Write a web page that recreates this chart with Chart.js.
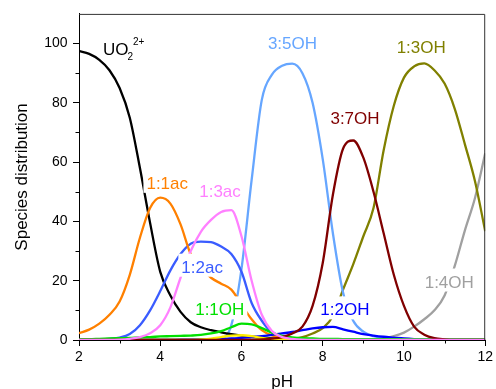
<!DOCTYPE html>
<html lang="en">
<head>
    <meta charset="UTF-8">
    <title>Species distribution vs pH</title>
    <style>
        body { margin: 0; background: #fff; }
        .chart-container { width: 496px; height: 389px; }
    </style>
</head>
<body>
    <div class="chart-container">
        <canvas id="speciesChart"></canvas>
    </div>

    <script src="https://cdn.jsdelivr.net/npm/chart.js"></script>
    <script>
        // pH grid the curves were read at
        const ph = [2, 2.25, 2.5, 2.75, 3, 3.25, 3.5, 3.75, 4, 4.25,
                    4.5, 4.75, 5, 5.25, 5.5, 5.75, 6, 6.25, 6.5, 6.75,
                    7, 7.25, 7.5, 7.75, 8, 8.25, 8.5, 8.75, 9, 9.25,
                    9.5, 9.75, 10, 10.25, 10.5, 10.75, 11, 11.25, 11.5, 11.75, 12];

        // species distribution (%)
        const uo2 = [97.5, 96.5, 94.5, 91, 85, 75, 58, 39.5, 23, 15,
                     9.5, 6, 4.3, 3.3, 2.6, 2, 1.5, 1.1, 0.8, 0.5,
                     0.3, 0.2, 0.1, 0, 0, 0, 0, 0, 0, 0,
                     0, 0, 0, 0, 0, 0, 0, 0, 0, 0, 0];
        const ac11 = [2.3, 3.5, 5.5, 8.5, 13, 22, 34.5, 44.5, 48, 46,
                      39, 29, 24.5, 21, 19, 17, 12, 7, 3.3, 1.5,
                      0.6, 0.2, 0.1, 0, 0, 0, 0, 0, 0, 0,
                      0, 0, 0, 0, 0, 0, 0, 0, 0, 0, 0];
        const ac12 = [0.1, 0.1, 0.2, 0.4, 0.8, 2, 5, 10, 16.5, 23.5,
                      29, 32.5, 33.2, 33, 31.5, 29, 23, 12.5, 6.5, 2.5,
                      0.8, 0.3, 0.1, 0, 0, 0, 0, 0, 0, 0,
                      0, 0, 0, 0, 0, 0, 0, 0, 0, 0, 0];
        const ac13 = [0, 0, 0, 0, 0.1, 0.4, 1, 2.3, 5, 11,
                      21, 30, 36.5, 40.5, 43.2, 43.8, 35, 20, 8.5, 3,
                      1, 0.4, 0.1, 0, 0, 0, 0, 0, 0, 0,
                      0, 0, 0, 0, 0, 0, 0, 0, 0, 0, 0];
        const oh11 = [0.3, 0.3, 0.4, 0.5, 0.6, 0.7, 0.9, 1, 1.2, 1.3,
                      1.4, 1.5, 1.7, 2.2, 3, 4.3, 5.5, 5.3, 4, 2.5,
                      1.4, 0.9, 0.6, 0.5, 0.4, 0.4, 0.3, 0.3, 0.3, 0.3,
                      0.3, 0.3, 0.2, 0.2, 0.2, 0.2, 0.2, 0.2, 0.2, 0.2, 0.2];
        const oh12 = [0, 0, 0, 0, 0, 0, 0, 0, 0, 0,
                      0.1, 0.1, 0.2, 0.2, 0.3, 0.5, 0.7, 1, 1.3, 1.7,
                      2.2, 2.7, 3.3, 3.9, 4.3, 4.4, 3.6, 2.8, 2, 1.5,
                      1.1, 0.8, 0.5, 0.3, 0.2, 0.1, 0.1, 0.1, 0.1, 0.1, 0.1];
        const oh13 = [0, 0, 0, 0, 0, 0, 0, 0, 0, 0,
                      0, 0, 0, 0, 0, 0, 0, 0, 0, 0,
                      0.2, 0.5, 1, 2.2, 4, 8, 17, 25.5, 35, 44.5,
                      64, 79, 88.5, 92.3, 93.3, 91, 86.5, 78, 66, 53.5, 36.7];
        const oh14 = [0, 0, 0, 0, 0, 0, 0, 0, 0, 0,
                      0, 0, 0, 0, 0, 0, 0, 0, 0, 0,
                      0, 0, 0, 0, 0, 0, 0, 0, 0.1, 0.3,
                      0.6, 1.3, 2.5, 4.5, 7, 10, 15, 25, 37, 48, 63];
        const oh35 = [0, 0, 0, 0, 0, 0, 0, 0, 0, 0,
                      0, 0, 0, 0, 0.4, 5, 24, 54, 81, 89.5,
                      92.5, 93.2, 90, 80, 61, 36, 16, 6.5, 2.8, 1.3,
                      0.7, 0.4, 0.2, 0.1, 0, 0, 0, 0, 0, 0, 0];
        const oh37 = [0, 0, 0, 0, 0, 0, 0, 0, 0, 0,
                      0, 0, 0, 0, 0, 0, 0, 0, 0.2, 0.5,
                      1, 2.2, 4.5, 11.5, 26, 49, 64.5, 67.3, 61.5, 50,
                      36, 22, 11.5, 4.5, 1.8, 0.6, 0.2, 0, 0, 0, 0];
        const minor = [0, 0, 0, 0, 0, 0, 0, 0, 0, 0,
                       0, 0, 0.2, 0.5, 1, 1.5, 1.6, 1.3, 0.7, 0.3,
                       0.1, 0, 0, 0, 0, 0, 0, 0, 0, 0,
                       0, 0, 0, 0, 0, 0, 0, 0, 0, 0, 0];

        // axis ticks
        const phTicks = [2, 4, 6, 8, 10, 12];
        const phMinorTicks = [3, 5, 7, 9, 11];
        const pctMinorTicks = [10, 30, 50, 70, 90];

        // curve labels, placed in data units (left edge, baseline)
        const speciesLabels = [
            { text: '1:1ac', color: '#ff8000', x: 3.66, y: 51.0 },
            { text: '1:3ac', color: '#ff80ff', x: 4.96, y: 48.3 },
            { text: '3:5OH', color: '#66a6ff', x: 6.65, y: 98.0 },
            { text: '3:7OH', color: '#800000', x: 8.19, y: 72.7 },
            { text: '1:3OH', color: '#808000', x: 9.82, y: 96.7 },
            { text: '1:2ac', color: '#3a5cff', x: 4.52, y: 22.7 },
            { text: '1:1OH', color: '#00e000', x: 4.86, y: 8.3 },
            { text: '1:2OH', color: '#0000ff', x: 7.94, y: 8.3 },
            { text: '1:4OH', color: '#a0a0a0', x: 10.51, y: 17.7 }
        ];

        const toPoints = (vals) => vals.map((v, i) => ({ x: ph[i], y: v }));

        function series(label, vals, color) {
            return {
                label: label,
                data: toPoints(vals),
                borderColor: color,
                borderWidth: 2.3,
                pointRadius: 0,
                fill: false,
                cubicInterpolationMode: 'monotone'
            };
        }

        const decorations = {
            id: 'decorations',
            afterDatasetsDraw: (chart) => {
                const ctx = chart.ctx;
                const xs = chart.scales.x;
                const ys = chart.scales.y;
                ctx.save();
                ctx.textBaseline = 'alphabetic';
                ctx.textAlign = 'left';
                ctx.font = '17px "Liberation Sans", Arial, sans-serif';
                speciesLabels.forEach(l => {
                    const px = xs.getPixelForValue(l.x);
                    const py = ys.getPixelForValue(l.y);
                    const w = ctx.measureText(l.text).width;
                    ctx.fillStyle = '#fff';
                    ctx.fillRect(px - 3, py - 19, w + 6, 23);
                    ctx.fillStyle = l.color;
                    ctx.fillText(l.text, px, py);
                });

                // UO2 2+ label with sub/superscript
                const ux = xs.getPixelForValue(2.59);
                const uy = ys.getPixelForValue(96.0);
                ctx.fillStyle = '#000';
                ctx.fillText('UO', ux, uy);
                const uw = ctx.measureText('UO').width;
                ctx.font = '10px "Liberation Sans", Arial, sans-serif';
                ctx.fillText('2', ux + uw - 1, uy + 5);
                const sw = ctx.measureText('2').width;
                ctx.fillText('2+', ux + uw - 1 + sw, uy - 10);
                ctx.restore();
            },
            afterDraw: (chart) => {
                const ctx = chart.ctx;
                const a = chart.chartArea;
                const xs = chart.scales.x;
                const ys = chart.scales.y;
                ctx.save();
                ctx.strokeStyle = '#000';
                ctx.lineWidth = 1;
                ctx.beginPath();
                phMinorTicks.forEach(v => {
                    const px = Math.round(xs.getPixelForValue(v)) + 0.5;
                    ctx.moveTo(px, a.bottom);
                    ctx.lineTo(px, a.bottom + 3.5);
                });
                pctMinorTicks.forEach(v => {
                    const py = Math.round(ys.getPixelForValue(v)) + 0.5;
                    ctx.moveTo(a.left, py);
                    ctx.lineTo(a.left - 3.5, py);
                });
                ctx.stroke();
                // top and right frame
                ctx.strokeStyle = '#333';
                ctx.beginPath();
                ctx.moveTo(a.left, a.top + 0.5);
                ctx.lineTo(a.right - 0.5, a.top + 0.5);
                ctx.lineTo(a.right - 0.5, a.bottom);
                ctx.stroke();
                ctx.restore();
            }
        };

        const ctx = document.getElementById('speciesChart').getContext('2d');

        new Chart(ctx, {
            type: 'line',
            data: {
                datasets: [
                    series('1:3ac', ac13, '#ff80ff'),
                    series('3:7OH', oh37, '#800000'),
                    series('1:1OH', oh11, '#00e000'),
                    series('minor', minor, '#ffee00'),
                    series('1:2OH', oh12, '#0000ff'),
                    series('1:1ac', ac11, '#ff8000'),
                    series('1:2ac', ac12, '#3a5cff'),
                    series('UO2 2+', uo2, '#000000'),
                    series('3:5OH', oh35, '#66a6ff'),
                    series('1:3OH', oh13, '#808000'),
                    series('1:4OH', oh14, '#a0a0a0')
                ]
            },
            options: {
                responsive: true,
                maintainAspectRatio: false,
                animation: false,
                layout: { padding: { top: 11, right: 8, left: 0, bottom: 0 } },
                plugins: {
                    legend: { display: false },
                    tooltip: { enabled: false }
                },
                scales: {
                    x: {
                        type: 'linear',
                        min: 2,
                        max: 12,
                        afterFit: (scale) => { scale.height = 49; },
                        afterBuildTicks: (scale) => {
                            scale.ticks = phTicks.map(v => ({ value: v }));
                        },
                        ticks: {
                            color: '#000',
                            padding: 3,
                            maxRotation: 0,
                            font: { family: '"Liberation Sans", Arial, sans-serif', size: 14 }
                        },
                        grid: { drawOnChartArea: false, tickLength: 6, color: '#000' },
                        border: { color: '#000', width: 1 },
                        title: {
                            display: true,
                            text: 'pH',
                            color: '#000',
                            padding: { top: 0, bottom: 0 },
                            font: { family: '"Liberation Sans", Arial, sans-serif', size: 17, lineHeight: 0.75 }
                        }
                    },
                    y: {
                        min: 0,
                        max: 110,
                        afterFit: (scale) => { scale.width = 79; },
                        ticks: {
                            stepSize: 20,
                            includeBounds: false,
                            color: '#000',
                            padding: 5.5,
                            font: { family: '"Liberation Sans", Arial, sans-serif', size: 14 }
                        },
                        grid: { drawOnChartArea: false, tickLength: 6, color: '#000' },
                        border: { color: '#000', width: 1 },
                        title: {
                            display: true,
                            text: 'Species distribution',
                            color: '#000',
                            padding: { top: 12, bottom: 0 },
                            font: { family: '"Liberation Sans", Arial, sans-serif', size: 17 }
                        }
                    }
                }
            },
            plugins: [decorations]
        });
    </script>
</body>
</html>
